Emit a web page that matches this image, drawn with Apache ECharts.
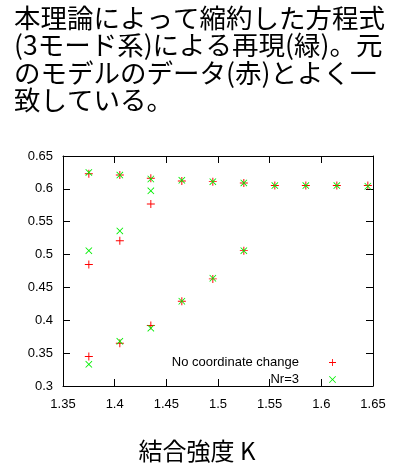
<!DOCTYPE html>
<html>
<head>
<meta charset="utf-8">
<script src="https://cdn.jsdelivr.net/npm/echarts@6/dist/echarts.min.js"></script>
<style>
  html, body { margin: 0; padding: 0; background: #fff; }
  #chart { width: 399px; height: 468px; }
</style>
</head>
<body>
<div id="chart"></div>
<script>
// Coupling strength K for each branch of solutions
const kUpper = [1.375, 1.405, 1.435, 1.465, 1.495, 1.525, 1.555, 1.585, 1.615, 1.645];
const kMiddle = [1.375, 1.405, 1.435];
const kLower = [1.375, 1.405, 1.435, 1.465, 1.495, 1.525];

// Original model (no coordinate change)
const redUpper = [0.623, 0.621, 0.616, 0.612, 0.611, 0.609, 0.605, 0.605, 0.605, 0.605];
const redMiddle = [0.485, 0.521, 0.577];
const redLower = [0.345, 0.365, 0.392, 0.429, 0.463, 0.506];

// Reduced 3-mode equations (Nr=3)
const greenUpper = [0.625, 0.621, 0.615, 0.613, 0.611, 0.609, 0.605, 0.605, 0.605, 0.604];
const greenMiddle = [0.506, 0.536, 0.597];
const greenLower = [0.333, 0.368, 0.388, 0.429, 0.464, 0.506];

const xTicks = [1.35, 1.4, 1.45, 1.5, 1.55, 1.6, 1.65];
const yTicks = [0.3, 0.35, 0.4, 0.45, 0.5, 0.55, 0.6, 0.65];

const seriesNames = ['No coordinate change', 'Nr=3'];
const titleLines = [
  '本理論によって縮約した方程式',
  '(3モード系)による再現(緑)。元',
  'のモデルのデータ(赤)とよく一',
  '致している。'
];
const xTitle = '結合強度 K';

function pairs(xs, ys) {
  return xs.map((x, i) => [x, ys[i]]);
}

const plusPath = 'path://M0,4.4H4.4V0H5.6V4.4H10V5.6H5.6V10H4.4V5.6H0Z';
const crossPath = 'path://M0,0.85L0.85,0L5,4.15L9.15,0L10,0.85L5.85,5L10,9.15L9.15,10L5,5.85L0.85,10L0,9.15L4.15,5Z';

const labelFont = { fontFamily: 'Liberation Sans, Arial, sans-serif', fontSize: 13, color: '#000' };

const chart = echarts.init(document.getElementById('chart'), null, { renderer: 'canvas' });

const baseAxis = {
  type: 'value',
  interval: 0.05,
  splitLine: { show: false },
  axisLine: { show: true, onZero: false, lineStyle: { color: '#000', width: 1 } },
  axisTick: { show: true, inside: true, length: 7, lineStyle: { color: '#000', width: 1 } }
};

chart.setOption({
  animation: false,
  backgroundColor: '#fff',
  title: {
    text: titleLines.join('\n'),
    left: 14,
    top: 4,
    padding: 0,
    textStyle: {
      fontFamily: 'Noto Sans CJK JP',
      fontSize: 26.5,
      fontWeight: 'normal',
      lineHeight: 27.5,
      color: '#000'
    }
  },
  grid: { left: 63, right: 26, top: 156, bottom: 76, containLabel: false },
  xAxis: [
    Object.assign({}, baseAxis, {
      min: xTicks[0], max: xTicks[xTicks.length - 1], position: 'bottom',
      axisLabel: Object.assign({ margin: 12 }, labelFont),
      name: xTitle,
      nameLocation: 'middle',
      nameGap: 53,
      nameTextStyle: {
        fontFamily: 'Noto Sans CJK JP', fontSize: 24, color: '#000',
        padding: [0, 42, 0, 0]
      }
    }),
    Object.assign({}, baseAxis, {
      min: xTicks[0], max: xTicks[xTicks.length - 1], position: 'top',
      axisLabel: { show: false }
    })
  ],
  yAxis: [
    Object.assign({}, baseAxis, {
      min: yTicks[0], max: yTicks[yTicks.length - 1], position: 'left',
      axisLabel: Object.assign({ margin: 10 }, labelFont)
    }),
    Object.assign({}, baseAxis, {
      min: yTicks[0], max: yTicks[yTicks.length - 1], position: 'right',
      axisLabel: { show: false }
    })
  ],
  legend: {
    orient: 'vertical',
    align: 'right',
    right: 63,
    top: 356,
    padding: 0,
    itemGap: 4,
    itemWidth: 7,
    itemHeight: 7,
    data: seriesNames,
    textStyle: Object.assign({ padding: [0, 25, 0, 0] }, labelFont)
  },
  series: [
    {
      name: seriesNames[0],
      type: 'scatter',
      symbol: plusPath,
      symbolSize: 8,
      itemStyle: { color: '#ff0000', opacity: 1 },
      data: pairs(kUpper, redUpper).concat(pairs(kMiddle, redMiddle), pairs(kLower, redLower)),
      z: 2
    },
    {
      name: seriesNames[1],
      type: 'scatter',
      symbol: crossPath,
      symbolSize: 7,
      itemStyle: { color: '#00ee00', opacity: 1 },
      data: pairs(kUpper, greenUpper).concat(pairs(kMiddle, greenMiddle), pairs(kLower, greenLower)),
      z: 3
    }
  ]
});
</script>
</body>
</html>
